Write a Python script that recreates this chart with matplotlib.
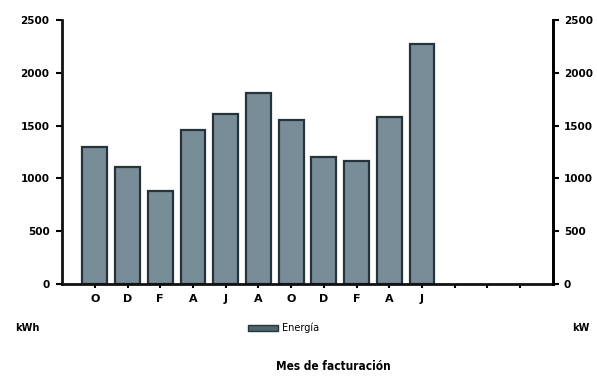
import matplotlib.pyplot as plt
from matplotlib.patches import Patch

# monthly billed energy (kWh)
months = ['O', 'D', 'F', 'A', 'J', 'A', 'O', 'D', 'F', 'A', 'J', '', '', '']
energia = [1300, 1110, 880, 1460, 1610, 1810, 1550, 1200, 1160, 1580, 2270]
yticks = [0, 500, 1000, 1500, 2000, 2500]

bar_color = '#788d97'
edge_color = '#25343b'

fig = plt.figure(figsize=(5.97, 3.81), dpi=100)
ax = fig.add_axes([0.104, 0.2546, 0.822, 0.693])

pos = list(range(len(months)))
ax.bar(pos[:len(energia)], energia, width=0.76, color=bar_color,
       edgecolor=edge_color, linewidth=1.6)

ax.set_xlim(-1, len(months))
ax.set_ylim(0, 2500)
ax.set_xticks(pos)
ax.set_xticklabels(months, fontsize=8, fontweight='bold')
ax.set_yticks(yticks)
ax.set_yticklabels([str(v) for v in yticks], fontsize=7.5, fontweight='bold')
ax.tick_params(axis='x', length=3, width=1.5, pad=4)
ax.tick_params(axis='y', length=4, width=1.5, pad=5)

for s in ['left', 'bottom', 'right']:
    ax.spines[s].set_linewidth(2)
    ax.spines[s].set_color('#111111')
ax.spines['top'].set_visible(False)

# secondary axis (same scale) on the right
ax2 = ax.twinx()
ax2.set_ylim(0, 2500)
ax2.set_yticks(yticks)
ax2.set_yticklabels([str(v) for v in yticks], fontsize=7.5, fontweight='bold')
ax2.tick_params(axis='y', length=4, width=1.5, pad=4)
ax2.spines['right'].set_linewidth(2)
for s in ['left', 'top', 'bottom']:
    ax2.spines[s].set_visible(False)

# unit labels
fig.text(15 / 597, 1 - 328 / 381, 'kWh', fontsize=7, fontweight='bold', va='center', ha='left')
fig.text(572 / 597, 1 - 328 / 381, 'kW', fontsize=7, fontweight='bold', va='center', ha='left')

# legend
leg = fig.legend(handles=[Patch(facecolor='#4f6670', edgecolor=edge_color, label='Energía')],
                 loc='center', bbox_to_anchor=(284 / 597, 1 - 328 / 381),
                 frameon=False, fontsize=7, handlelength=3, handleheight=0.6,
                 handletextpad=0.5)

fig.text(333 / 597, 1 - 367 / 381, 'Mes de facturación', fontsize=8.5,
         fontweight='bold', ha='center', va='center', fontstretch='condensed')

plt.savefig('out.png', dpi=100)
